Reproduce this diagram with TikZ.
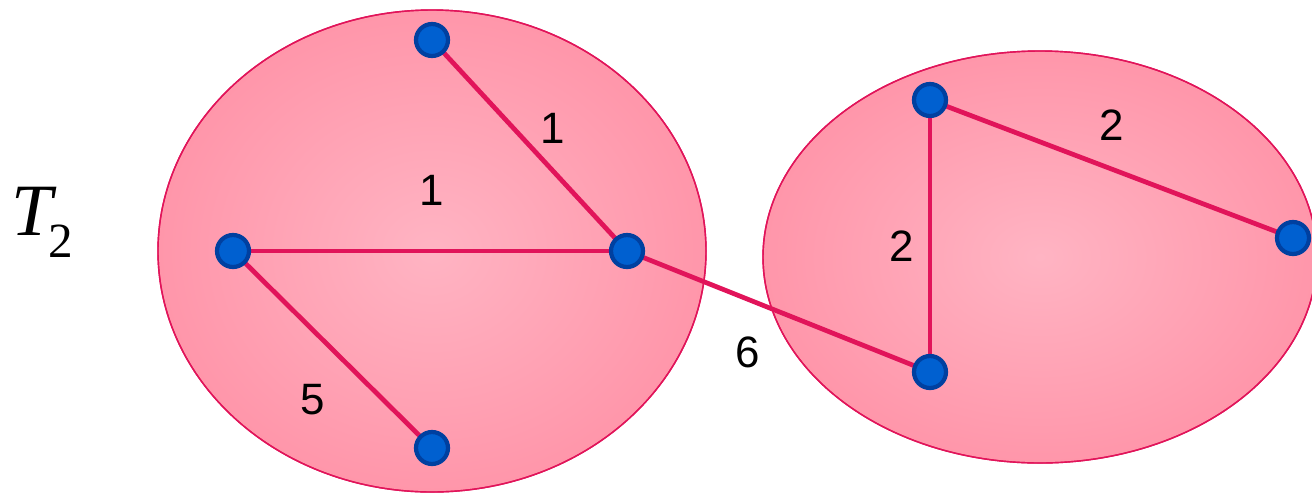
\documentclass[tikz,border=0pt]{standalone}
\usepackage{fontspec}
\setmainfont{Liberation Sans}
\newfontfamily\serifface{Liberation Serif}
\definecolor{blobpink}{RGB}{255,150,170}
\definecolor{blobcore}{RGB}{255,180,195}
\definecolor{rimred}{RGB}{225,20,90}
\definecolor{vertblue}{RGB}{0,96,208}
\definecolor{vertrim}{RGB}{0,64,160}
\pgfdeclarelayer{blobs}
\pgfdeclarelayer{links}
\pgfsetlayers{blobs,links,main}
\tikzset{
  blob/.style={draw=rimred,line width=0.8pt,inner color=blobcore,outer color=blobpink},
  vert/.style={circle,fill=vertblue,draw=vertrim,line width=2.4pt,minimum size=0.64cm,inner sep=0pt},
  link/.style={draw=rimred,line width=2.7pt},
  wlabel/.style={font=\fontsize{25}{30}\selectfont}
}
\begin{document}
\begin{tikzpicture}[x=0.02cm,y=-0.02cm]
  \useasboundingbox (0,0) rectangle (1312,495);
  \clip (0,0) rectangle (1312,495);
  % the two clusters
  \begin{pgfonlayer}{blobs}
    \fill[blob] (432,251) ellipse (274 and 241);
    \draw[rimred,line width=0.8pt] (432,251) ellipse (274 and 241);
    \fill[blob] (1040,257) ellipse (277 and 206);
    \draw[rimred,line width=0.8pt] (1040,257) ellipse (277 and 206);
  \end{pgfonlayer}
  % vertices
  \node[vert] (a) at (432,40) {};
  \node[vert] (b) at (233,251) {};
  \node[vert] (c) at (627,251) {};
  \node[vert] (d) at (432,448) {};
  \node[vert] (e) at (930,100) {};
  \node[vert] (f) at (930,372) {};
  \node[vert] (g) at (1293,238) {};
  % edges
  \begin{pgfonlayer}{links}
    \draw[link] (a.center) -- (c.center);
    \draw[link] (b.center) -- (c.center);
    \draw[link] (b.center) -- (d.center);
    \draw[link] (c.center) -- (f.center);
    \draw[link] (e.center) -- (f.center);
    \draw[link] (e.center) -- (g.center);
  \end{pgfonlayer}
  % weights
  \node[wlabel] (wac) at (553,128) {1};
  \node[wlabel] (wbc) at (432,190) {1};
  \node[wlabel] (wbd) at (313,400) {5};
  \node[wlabel] (wcf) at (748,352) {6};
  \node[wlabel] (wef) at (902,246) {2};
  \node[wlabel] (weg) at (1112,125) {2};
  \node (tree) at (42,222) {\serifface\fontsize{42}{42}\selectfont\itshape T\kern-0.05em\raisebox{-0.3em}{\fontsize{28}{28}\selectfont\upshape 2}};
\end{tikzpicture}
\end{document}
